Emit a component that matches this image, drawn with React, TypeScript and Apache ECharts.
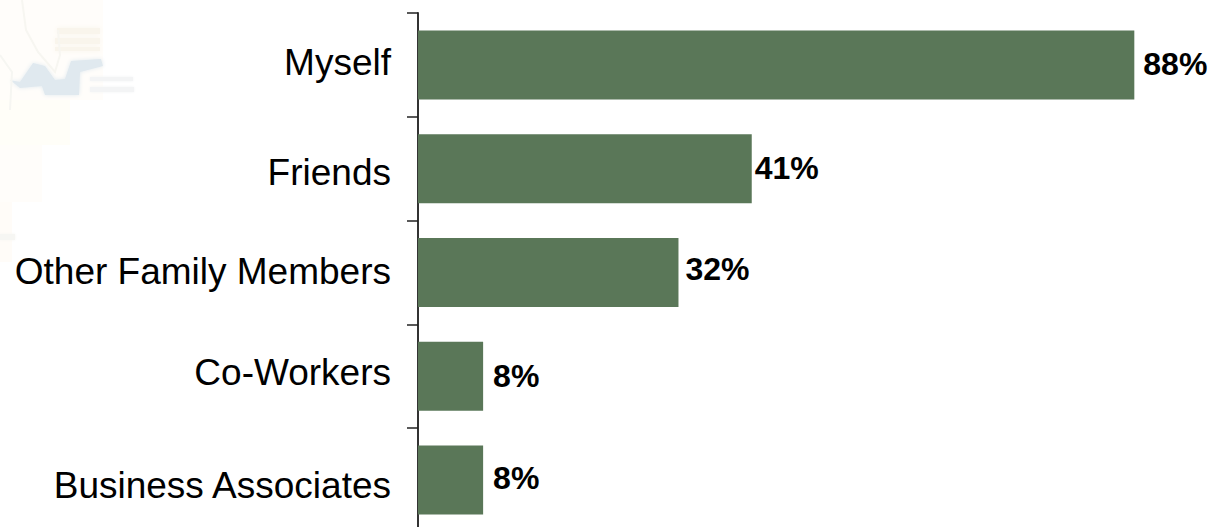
import React, { useEffect, useRef } from "react";
import * as echarts from "echarts";

const categories = ["Myself", "Friends", "Other Family Members", "Co-Workers", "Business Associates"];
const shares = [88, 41, 32, 8, 8];
const labelOffsets = [[9, -1], [3, -1], [7, -4], [10, 0], [10, -2]];
// Vertical nudges for the category names, as [top, right, bottom, left] padding.
const categoryPadding = [
  [0, 0, 5, 0],
  [8, 0, 0, 0],
  [0, 0, 3, 0],
  [0, 0, 7, 0],
  [10, 0, 0, 0],
];

const FONT = '"Liberation Sans", Arial, sans-serif';
const BAR_COLOR = "#5A7758";

const soft = (color: string, blur = 5) => ({ shadowColor: color, shadowBlur: blur });

// One rich-text style per category, so each name can sit at its own height.
const categoryRich = Object.fromEntries(
  categoryPadding.map((padding, i) => [
    `c${i}`,
    { padding, fontFamily: FONT, fontSize: 37, color: "#000000" },
  ]),
);

// Faded map in the page's corner, sitting behind the plot.
const mapBackdrop = [
  { type: "rect", shape: { x: 0, y: 0, width: 103, height: 100 }, style: { fill: "#FFFDFA" } },
  { type: "rect", shape: { x: 0, y: 100, width: 70, height: 45 }, style: { fill: "#FFFEF8" } },
  { type: "rect", shape: { x: 0, y: 145, width: 42, height: 57 }, style: { fill: "#FFFDFA" } },
  { type: "rect", shape: { x: 0, y: 202, width: 12, height: 60 }, style: { fill: "#FFFCF8" } },
  { type: "rect", shape: { x: 57, y: 28, width: 43, height: 6 }, style: { fill: "#F9F5EC", ...soft("#F9F5EC") } },
  { type: "rect", shape: { x: 55, y: 38, width: 45, height: 6 }, style: { fill: "#F9F5EC", ...soft("#F9F5EC") } },
  { type: "rect", shape: { x: 55, y: 47, width: 45, height: 4 }, style: { fill: "#F9F5EC", ...soft("#F9F5EC") } },
  { type: "rect", shape: { x: 90, y: 77, width: 43, height: 4 }, style: { fill: "#F3F4F5", ...soft("#F3F4F5", 3) } },
  { type: "rect", shape: { x: 90, y: 87, width: 44, height: 5 }, style: { fill: "#F3F4F5", ...soft("#F3F4F5", 3) } },
  { type: "rect", shape: { x: 0, y: 234, width: 15, height: 6 }, style: { fill: "#F6F6F3", ...soft("#F6F6F3", 3) } },
  {
    type: "polygon",
    shape: {
      points: [[10, 80], [20, 82], [33, 63], [45, 66], [55, 80], [65, 79], [71, 61], [101, 59], [103, 66], [80, 72], [79, 95], [45, 95], [42, 86], [20, 88]],
    },
    style: { fill: "#E0E9EF", ...soft("#E0E9EF", 4) },
  },
  {
    type: "polyline",
    shape: { points: [[22, 0], [26, 30], [38, 52], [55, 72], [60, 55], [58, 30]] },
    style: { stroke: "#F7F6F1", lineWidth: 2, fill: "none" },
  },
  {
    type: "polyline",
    shape: { points: [[0, 55], [12, 72], [10, 110]] },
    style: { stroke: "#F6F6F2", lineWidth: 2, fill: "none" },
  },
];

export default function App() {
  const ref = useRef<HTMLDivElement>(null);

  useEffect(() => {
    const chart = echarts.init(ref.current!, null, { renderer: "svg" });
    chart.setOption({
      animation: false,
      backgroundColor: "#FFFFFF",
      graphic: mapBackdrop.map((el) => ({ ...el, silent: true, z: -1 })),
      grid: { left: 418, top: 13, width: 814, height: 519 },
      xAxis: { type: "value", min: 0, max: 100, show: false },
      yAxis: {
        type: "category",
        inverse: true,
        data: categories,
        axisLine: { show: true, lineStyle: { color: "#333333", width: 2 } },
        axisTick: { show: true, length: 11, alignWithLabel: false, lineStyle: { color: "#222222", width: 1.5 } },
        axisLabel: {
          margin: 27,
          fontFamily: FONT,
          fontSize: 37,
          color: "#000000",
          formatter: (value: string) => `{c${categories.indexOf(value)}|${value}}`,
          rich: categoryRich,
        },
      },
      series: [
        {
          type: "bar",
          data: shares.map((value, i) => ({
            value,
            label: { offset: labelOffsets[i] },
          })),
          barWidth: 69,
          itemStyle: { color: BAR_COLOR },
          label: {
            show: true,
            position: "right",
            distance: 0,
            formatter: "{c}%",
            fontFamily: FONT,
            fontSize: 32,
            fontWeight: "bold",
            color: "#000000",
          },
        },
      ],
    });
    return () => chart.dispose();
  }, []);

  return (
    <div style={{ position: "fixed", left: 0, top: 0, width: 1209, height: 527, overflow: "hidden" }}>
      <div ref={ref} style={{ width: 1240, height: 540 }} />
    </div>
  );
}
